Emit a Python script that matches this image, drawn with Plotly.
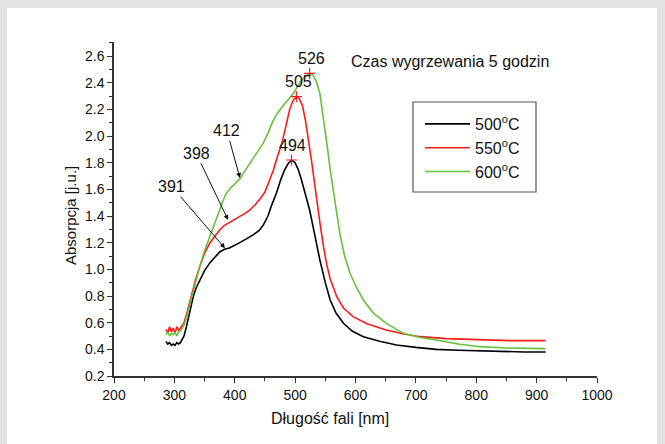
import plotly.graph_objects as go

# ---- data ----
wl_500 = [286, 289, 292, 295, 298, 301, 304, 307, 310, 313, 316, 320, 325, 331, 336, 342, 350, 359, 367, 375,
          383, 391, 400, 409, 420, 431, 440, 447, 455, 461, 469, 476, 482, 488, 494, 500, 505, 510, 517, 524,
          532, 541, 550, 558, 568, 580, 595, 613, 640, 668, 700, 734, 770, 806, 850, 880, 915]
abs_500 = [0.46, 0.44, 0.45, 0.43, 0.44, 0.43, 0.45, 0.44, 0.45, 0.47, 0.50, 0.57, 0.68, 0.79, 0.86, 0.92, 0.99, 1.05, 1.09, 1.13,
           1.15, 1.16, 1.18, 1.20, 1.23, 1.26, 1.29, 1.33, 1.40, 1.48, 1.57, 1.67, 1.74, 1.79, 1.82, 1.80, 1.75, 1.68, 1.57, 1.445,
           1.27, 1.07, 0.90, 0.77, 0.67, 0.595, 0.535, 0.495, 0.46, 0.433, 0.415, 0.40, 0.393, 0.388, 0.383, 0.38, 0.38]

wl_550 = [286, 289, 292, 295, 298, 301, 304, 307, 310, 313, 316, 320, 325, 329, 335, 342, 350, 359, 367, 375,
          383, 391, 398, 409, 417, 425, 433, 442, 450, 457, 464, 471, 478, 485, 491, 497, 502, 507, 512, 517,
          522, 527, 532, 537, 542, 547, 552, 558, 564, 569, 580, 596, 620, 651, 680, 707, 750, 806, 860, 915]
abs_550 = [0.55, 0.52, 0.57, 0.53, 0.56, 0.52, 0.57, 0.54, 0.56, 0.58, 0.60, 0.66, 0.75, 0.82, 0.92, 1.02, 1.12, 1.20, 1.25, 1.295,
           1.33, 1.35, 1.37, 1.395, 1.42, 1.445, 1.48, 1.53, 1.58, 1.66, 1.745, 1.85, 1.945, 2.08, 2.20, 2.27, 2.295, 2.28, 2.23, 2.12,
           1.98, 1.82, 1.65, 1.47, 1.32, 1.17, 1.045, 0.93, 0.85, 0.795, 0.71, 0.645, 0.59, 0.545, 0.515, 0.495, 0.48, 0.47, 0.465, 0.465]

wl_600 = [286, 289, 292, 295, 298, 301, 304, 307, 310, 313, 316, 320, 325, 331, 336, 342, 350, 359, 367, 375,
          381, 386, 393, 400, 409, 417, 425, 433, 441, 447, 455, 462, 469, 475, 482, 490, 497, 504, 511, 518,
          524, 530, 535, 541, 545, 549, 553, 558, 563, 568, 574, 582, 591, 602, 613, 630, 651, 679, 705, 734,
          770, 806, 850, 915]
abs_600 = [0.51, 0.53, 0.50, 0.52, 0.51, 0.53, 0.50, 0.53, 0.54, 0.56, 0.58, 0.64, 0.73, 0.82, 0.92, 1.02, 1.14, 1.245, 1.35, 1.445,
           1.52, 1.57, 1.61, 1.64, 1.68, 1.74, 1.795, 1.85, 1.895, 1.945, 2.02, 2.10, 2.16, 2.20, 2.24, 2.28, 2.32, 2.37, 2.42, 2.45,
           2.47, 2.455, 2.41, 2.32, 2.20, 2.07, 1.93, 1.75, 1.595, 1.42, 1.27, 1.10, 0.97, 0.86, 0.77, 0.67, 0.595, 0.52, 0.49, 0.47,
           0.44, 0.42, 0.41, 0.405]

series_names = ["500<sup>o</sup>C", "550<sup>o</sup>C", "600<sup>o</sup>C"]
series_colors = ["#000000", "#ff1a1a", "#66c23a"]

peak_wl = [494, 502, 524]
peak_abs = [1.82, 2.295, 2.47]
peak_labels = ["494", "505", "526"]
peak_label_pos = [(495.5, 1.93), (506, 2.41), (527, 2.58)]

shoulder_labels = ["391", "398", "412"]
shoulder_tip = [(383.8, 1.158), (389, 1.37), (408.6, 1.685)]
shoulder_text = [(296, 1.62), (336, 1.87), (387, 2.04)]

title_text = "Czas wygrzewania 5 godzin"
x_title = "Długość fali [nm]"
y_title = "Absorpcja [j.u.]"
x_ticks = [200, 300, 400, 500, 600, 700, 800, 900, 1000]
y_ticks = [0.2, 0.4, 0.6, 0.8, 1.0, 1.2, 1.4, 1.6, 1.8, 2.0, 2.2, 2.4, 2.6]

FONT = "Liberation Sans, Arial, sans-serif"

fig = go.Figure()
for wl, ab, name, col in zip([wl_500, wl_550, wl_600], [abs_500, abs_550, abs_600], series_names, series_colors):
    fig.add_trace(go.Scatter(x=wl, y=ab, mode="lines", name=name,
                             line=dict(color=col, width=1.6)))

fig.add_trace(go.Scatter(x=peak_wl, y=peak_abs, mode="markers", showlegend=False,
                         marker=dict(symbol="cross-thin", size=8, line=dict(color="#ff1a1a", width=1.2))))

# ---- layout geometry (pixels) ----
W, H = 665, 444
L, R, T, B = 114, 68, 42, 68
pw, ph = W - L - R, H - T - B


def px(xp):
    return (xp - L) / pw


def py(yp):
    return (H - B - yp) / ph


shapes = [
    dict(type="rect", xref="paper", yref="paper", x0=px(7), x1=px(657), y0=py(8), y1=py(460),
         fillcolor="white", line=dict(width=0), layer="below"),
    dict(type="rect", xref="paper", yref="paper", x0=px(413), x1=px(536), y0=py(192), y1=py(102),
         fillcolor="rgba(0,0,0,0)", line=dict(color="#555555", width=1.2)),
]

annotations = []
for lab, (xx, yy) in zip(peak_labels, peak_label_pos):
    annotations.append(dict(x=xx, y=yy, text=lab, showarrow=False,
                            font=dict(family=FONT, size=16, color="#111")))
for lab, (tx, ty), (lx, ly) in zip(shoulder_labels, shoulder_tip, shoulder_text):
    annotations.append(dict(x=tx, y=ty, ax=lx, ay=ly, axref="x", ayref="y", text=lab,
                            showarrow=True, arrowhead=2, arrowsize=1, arrowwidth=1, arrowcolor="#111",
                            font=dict(family=FONT, size=16, color="#111")))
annotations.append(dict(x=756, y=2.56, text=title_text, showarrow=False,
                        font=dict(family=FONT, size=16, color="#111")))
annotations.append(dict(xref="paper", yref="paper", x=px(330), y=py(418), xanchor="center", yanchor="middle",
                        text=x_title, showarrow=False,
                        font=dict(family=FONT, size=16, color="#111")))
annotations.append(dict(xref="paper", yref="paper", x=px(70), y=py(216), xanchor="center", yanchor="middle",
                        text=y_title, showarrow=False,
                        textangle=-90, font=dict(family=FONT, size=15, color="#111")))

axis_common = dict(showline=True, linecolor="#333333", linewidth=1.5, ticks="outside", ticklen=5,
                   tickwidth=1.2, tickcolor="#333333", showgrid=False, zeroline=False,
                   tickfont=dict(family=FONT, size=14, color="#111"))

fig.update_layout(
    width=W, height=H,
    margin=dict(l=L, r=R, t=T, b=B),
    paper_bgcolor="#e3e3e3",
    plot_bgcolor="white",
    shapes=shapes,
    annotations=annotations,
    legend=dict(x=px(420), y=py(107), xanchor="left", yanchor="top",
                bgcolor="rgba(0,0,0,0)", borderwidth=0, itemwidth=45,
                font=dict(family=FONT, size=16, color="#111"), tracegroupgap=0),
    xaxis=dict(range=[200, 1000], tickvals=x_ticks, ticktext=[str(v) for v in x_ticks],
               minor=dict(ticks="outside", ticklen=3, dtick=50, tick0=200, tickcolor="#333333"),
               **axis_common),
    yaxis=dict(range=[0.2, 2.705], tickvals=y_ticks, ticktext=[f"{v:.1f}" for v in y_ticks],
               minor=dict(ticks="outside", ticklen=3, dtick=0.1, tick0=0.2, tickcolor="#333333"),
               **axis_common),
)

fig.write_html("out.html", config={"displayModeBar": False},
               post_script="document.body.style.margin='0';document.body.style.overflow='hidden';")
